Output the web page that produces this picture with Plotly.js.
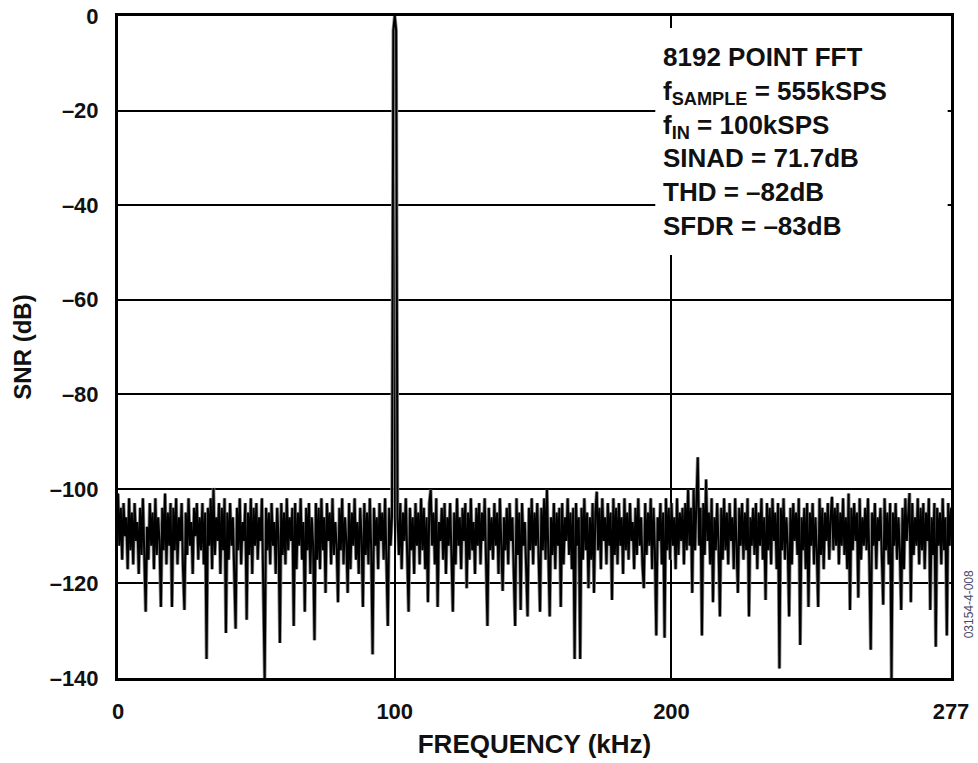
<!DOCTYPE html>
<html>
<head>
<meta charset="utf-8">
<script src="https://cdn.plot.ly/plotly-3.0.1.min.js"></script>
<style>
  html, body { margin: 0; padding: 0; background: #fff; }
  #chart { width: 978px; height: 763px; }
</style>
</head>
<body>
<div id="chart"></div>
<script>
// FFT spectrum, one value per 0.5 kHz bin (bin k sits at k * binStep kHz)
const binStep = 0.5;

const spectrumDb = [
  // 0 - 9.5 kHz
  -101,-112,-104,-115,-103,-110,-106,-117,-102,-113,-105,-116,-103,-111,-107,-118,-104,-114,-102,-113,
  // 10 - 19.5
  -126,-108,-115,-103,-112,-105,-117,-102,-114,-106,-111,-125,-104,-113,-101,-116,-105,-112,-103,-125,
  // 20 - 29.5
  -104,-113,-102,-116,-106,-111,-103,-117,-125.6,-105,-114,-102,-112,-107,-118,-104,-110,-103,-115,-106,
  // 30 - 39.5
  -113,-103,-116,-105,-136,-104,-112,-102,-117,-99.8,-114,-106,-111,-103,-118,-104,-113,-102,-130.5,-105,
  // 40 - 49.5
  -115,-103,-112,-106,-117,-129.6,-104,-113,-102,-116,-107,-111,-103,-127.7,-105,-114,-102,-118,-104,-112,
  // 50 - 59.5
  -103,-115,-106,-111,-102,-117,-140,-104,-113,-105,-116,-103,-112,-107,-118,-104,-110,-132.6,-103,-114,
  // 60 - 69.5
  -105,-116,-102,-113,-106,-111,-104,-129,-103,-117,-105,-112,-102,-115,-107,-126,-104,-113,-103,-118,
  // 70 - 79.5
  -106,-112,-132,-103,-115,-104,-117,-102,-113,-106,-122,-103,-111,-105,-116,-102,-114,-107,-112,-124,
  // 80 - 89.5
  -104,-113,-102,-116,-106,-111,-122,-103,-117,-105,-112,-102,-115,-107,-118,-104,-110,-125,-103,-114,
  // 90 - 99.5
  -105,-116,-102,-113,-135,-104,-112,-106,-117,-103,-111,-105,-115,-102,-113,-129,-104,-112,-106,-3,
  // 100 - 109.5 (fundamental at 100 kHz)
  0,-3,-106,-114,-103,-117,-105,-111,-102,-115,-126,-104,-113,-106,-118,-103,-112,-105,-116,-102,
  // 110 - 119.5
  -113,-104,-117,-106,-124,-103,-100.2,-112,-105,-116,-102,-125,-107,-111,-104,-115,-103,-118,-106,-112,
  // 120 - 129.5
  -103,-114,-126,-105,-116,-102,-112,-106,-117,-104,-111,-103,-121,-105,-115,-102,-113,-107,-118,-104,
  // 130 - 139.5
  -112,-103,-116,-105,-111,-102,-117,-129,-104,-113,-106,-115,-103,-112,-105,-118,-102,-114,-121.6,-106,
  // 140 - 149.5
  -113,-104,-116,-103,-111,-106,-117,-129,-102,-114,-105,-125.6,-103,-112,-107,-115,-127,-104,-113,-102,
  // 150 - 159.5
  -116,-105,-112,-103,-118,-126,-104,-113,-102,-115,-100.2,-111,-127,-106,-114,-103,-117,-105,-112,-104,
  // 160 - 169.5
  -125,-103,-116,-106,-111,-102,-114,-105,-117,-104,-136,-103,-112,-106,-136,-104,-115,-102,-113,-105,
  // 170 - 179.5
  -121,-106,-115,-103,-122,-105,-100.6,-113,-104,-117,-102,-111,-106,-116,-103,-112,-105,-123.5,-102,-114,
  // 180 - 189.5
  -104,-116,-103,-112,-106,-118,-102,-113,-105,-115,-103,-111,-107,-117,-104,-114,-102,-112,-106,-116,
  // 190 - 199.5
  -121,-103,-114,-105,-112,-102,-117,-104,-113,-131,-106,-111,-103,-116,-105,-131.5,-102,-113,-104,-115,
  // 200 - 209.5
  -103,-112,-106,-117,-102,-114,-105,-111,-104,-116,-103,-113,-100.2,-112,-104,-122,-100.2,-113,-105,-93.3,
  // 210 - 219.5
  -112,-104,-131,-103,-114,-98,-111,-105,-116,-102,-124,-106,-113,-103,-112,-127,-104,-115,-102,-113,
  // 220 - 229.5
  -105,-116,-103,-111,-106,-117,-102,-114,-122,-104,-112,-103,-115,-105,-113,-102,-127,-106,-112,-104,
  // 230 - 239.5
  -114,-103,-117,-105,-112,-102,-115,-106,-123.5,-103,-113,-104,-116,-102,-111,-105,-117,-103,-138,-104,
  // 240 - 249.5
  -113,-102,-115,-106,-112,-127,-104,-116,-103,-111,-105,-114,-102,-133,-106,-113,-104,-117,-103,-125,
  // 250 - 259.5
  -105,-112,-103,-116,-106,-113,-125,-102,-114,-104,-117,-105,-111,-103,-115,-106,-101.7,-113,-104,-112,
  // 260 - 269.5
  -103,-116,-105,-112,-102,-114,-106,-117,-101,-125.6,-104,-113,-103,-111,-105,-123,-102,-115,-106,-112,
  // 270 - 279.5
  -104,-113,-102,-116,-134,-105,-112,-103,-117,-106,-111,-104,-114,-124.5,-102,-113,-105,-116,-103,-140,
  // 280 - 289.5
  -105,-112,-103,-115,-106,-113,-125.6,-104,-117,-102,-111,-105,-100.9,-124,-103,-114,-106,-112,-102,-116,
  // 290 - 299.5
  -104,-113,-103,-117,-105,-111,-102,-125.6,-106,-114,-103,-133.4,-104,-112,-105,-116,-102,-113,-106,-131,
  // 300 - 301
  -103,-112,-104
];

const frequencyKHz = spectrumDb.map((_, k) => k * binStep);

// axis ticks
const xTickVals = [0, 100, 200, 301];
const xTickText = ['0', '100', '200', '277'];
const yTickVals = [0, -20, -40, -60, -80, -100, -120, -140];
const yTickText = ['0', '–20', '–40', '–60', '–80', '–100', '–120', '–140'];

// measurement summary
const infoLines = [
  '8192 POINT FFT',
  'f<sub>SAMPLE</sub> = 555kSPS',
  'f<sub>IN</sub> = 100kSPS',
  'SINAD = 71.7dB',
  'THD = –82dB',
  'SFDR = –83dB'
];

const font = 'Liberation Sans, Arial, Helvetica, sans-serif';

// soft grey halo under the trace, then the black trace itself
const halo = {
  x: frequencyKHz,
  y: spectrumDb,
  type: 'scatter',
  mode: 'lines',
  line: { color: '#8a8a8a', width: 3.6 },
  hoverinfo: 'skip'
};

const trace = {
  x: frequencyKHz,
  y: spectrumDb,
  type: 'scatter',
  mode: 'lines',
  line: { color: '#000', width: 2 },
  hoverinfo: 'x+y'
};

const layout = {
  width: 978,
  height: 763,
  margin: { l: 118, r: 27, t: 16, b: 85 },
  paper_bgcolor: '#fff',
  plot_bgcolor: '#fff',
  showlegend: false,
  font: { family: font, color: '#111' },
  xaxis: {
    range: [0, 301],
    tickvals: xTickVals,
    ticktext: xTickText,
    showgrid: true,
    gridcolor: '#000',
    gridwidth: 2,
    zeroline: false,
    showline: true,
    linecolor: '#000',
    linewidth: 3,
    mirror: true,
    ticks: '',
    ticklabelstandoff: 12,
    tickfont: { family: font, size: 22, color: '#111', weight: 'bold' },
    title: {
      text: '<b>FREQUENCY (kHz)</b>',
      font: { family: font, size: 26, color: '#111' },
      standoff: 12
    },
    automargin: false,
    fixedrange: true
  },
  yaxis: {
    range: [-140, 0],
    tickvals: yTickVals,
    ticktext: yTickText,
    showgrid: true,
    gridcolor: '#000',
    gridwidth: 2,
    zeroline: false,
    showline: true,
    linecolor: '#000',
    linewidth: 3,
    mirror: true,
    ticks: '',
    ticklabelstandoff: 12,
    tickfont: { family: font, size: 22, color: '#111', weight: 'bold' },
    title: {
      text: '<b>SNR (dB)</b>',
      font: { family: font, size: 24, color: '#111' },
      standoff: 12
    },
    automargin: false,
    fixedrange: true
  },
  shapes: [
    {
      type: 'rect',
      xref: 'paper', yref: 'paper',
      x0: 0.645, x1: 0.996, y0: 0.639, y1: 0.982,
      fillcolor: '#fff',
      line: { width: 0 },
      layer: 'above'
    }
  ],
  annotations: [
    {
      xref: 'paper', yref: 'paper',
      x: 0.652, y: 0.963,
      xanchor: 'left', yanchor: 'top',
      align: 'left',
      showarrow: false,
      text: '<b>' + infoLines.join('<br>') + '</b>',
      font: { family: font, size: 26, color: '#111' }
    },
    {
      xref: 'paper', yref: 'paper',
      x: 1.021, y: 0.112,
      xanchor: 'center', yanchor: 'middle',
      showarrow: false,
      textangle: -90,
      text: '03154-4-008',
      font: { family: font, size: 12, color: '#4a4a6a' }
    }
  ]
};

Plotly.newPlot('chart', [halo, trace], layout, { displayModeBar: false, staticPlot: true });
</script>
</body>
</html>
